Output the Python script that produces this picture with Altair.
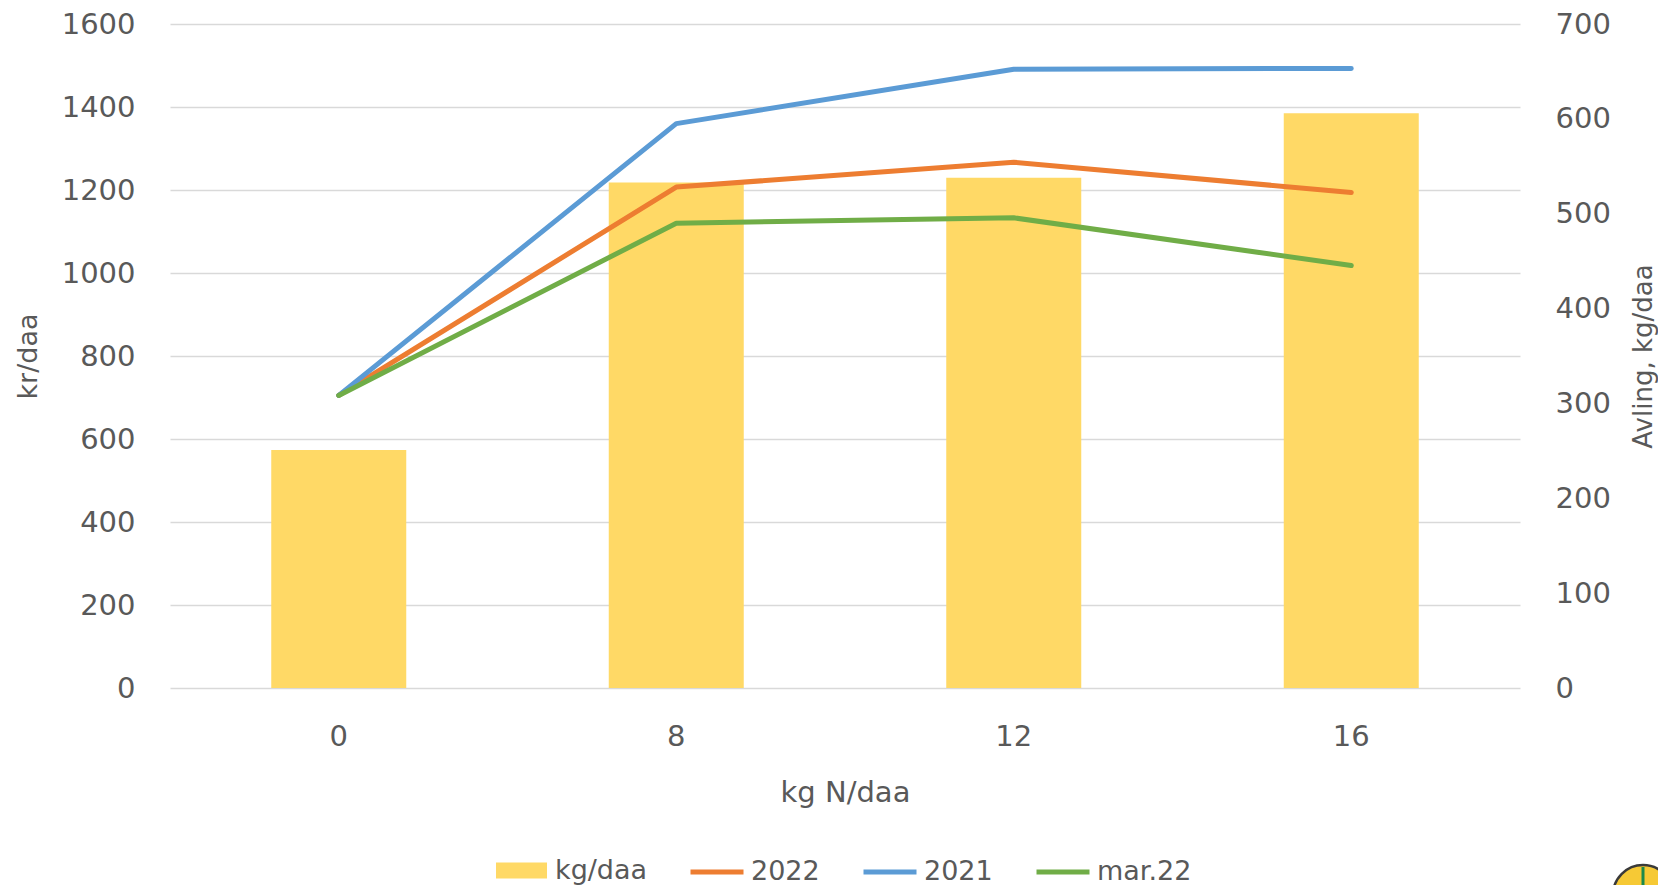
import altair as alt
import pandas as pd

# ---- data ----
categories = ["0", "8", "12", "16"]
yield_kg_daa = [251, 533, 538, 606]          # bars, right axis (Avling, kg/daa)
kr_2022 = [705, 1207, 1267, 1194]            # lines, left axis (kr/daa)
kr_2021 = [705, 1360, 1491, 1493]
kr_mar22 = [705, 1120, 1133, 1018]
series_names = ["2022", "2021", "mar.22"]
series_colors = ["#ED7D31", "#5B9BD5", "#70AD47"]
bar_name = "kg/daa"
bar_color = "#FFD966"
left_ticks = [0, 200, 400, 600, 800, 1000, 1200, 1400, 1600]
right_ticks = [0, 100, 200, 300, 400, 500, 600, 700]

bars_df = pd.DataFrame({"N": categories, "value": yield_kg_daa, "serie": bar_name})
lines_df = pd.DataFrame({
    "N": categories * 3,
    "value": kr_2022 + kr_2021 + kr_mar22,
    "serie": [series_names[0]] * 4 + [series_names[1]] * 4 + [series_names[2]] * 4,
    "order": [0] * 4 + [1] * 4 + [2] * 4,
})

TXT = "#595959"
FONT = "DejaVu Sans"
W, H = 1350, 664

x_enc = alt.X(
    "N:N", sort=categories,
    scale=alt.Scale(paddingInner=0.6, paddingOuter=0.3),
    axis=alt.Axis(
        title="kg N/daa", labelAngle=0, ticks=False, tickSize=0, domain=False,
        labelFont=FONT, labelFontSize=29, labelColor=TXT,
        labelBaseline="middle", labelPadding=48,
        titleFont=FONT, titleFontSize=29, titleFontWeight="normal", titleColor=TXT,
        titleX=W / 2, titleY=104, titleBaseline="middle", titleAlign="center",
    ),
)

bars = alt.Chart(bars_df).mark_bar(color=bar_color).encode(
    x=x_enc,
    y=alt.Y(
        "value:Q",
        scale=alt.Scale(domain=[0, 700], nice=False),
        axis=alt.Axis(
            orient="right", values=right_ticks, format="d", grid=False, ticks=False, domain=False,
            title="Avling, kg/daa", titleAngle=270, titleX=123, titleY=H / 2,
            titleAlign="center", titleBaseline="middle",
            titleFont=FONT, titleFontSize=26, titleFontWeight="normal", titleColor=TXT,
            labelFont=FONT, labelFontSize=29, labelColor=TXT, labelPadding=35,
        ),
    ),
    color=alt.Color(
        "serie:N",
        scale=alt.Scale(domain=[bar_name], range=[bar_color]),
        legend=alt.Legend(
            orient="none", legendX=326, legendY=821, direction="horizontal",
            title=None, symbolType="M-1,-0.31H1V0.31H-1Z", symbolSize=2601,
            symbolStrokeWidth=0, labelFont=FONT, labelFontSize=27, labelColor=TXT,
            labelOffset=8, padding=0, offset=0,
        ),
    ),
)

lines = alt.Chart(lines_df).mark_line(strokeWidth=5, strokeCap="round", strokeJoin="round").encode(
    x=x_enc,
    y=alt.Y(
        "value:Q",
        scale=alt.Scale(domain=[0, 1600], nice=False),
        axis=alt.Axis(
            orient="left", values=left_ticks, format="d", grid=True, gridColor="#D9D9D9", gridWidth=1.5,
            ticks=False, domain=False,
            title="kr/daa", titleAngle=270, titleX=-142, titleY=H / 2,
            titleAlign="center", titleBaseline="middle",
            titleFont=FONT, titleFontSize=27, titleFontWeight="normal", titleColor=TXT,
            labelFont=FONT, labelFontSize=29, labelColor=TXT, labelPadding=35,
        ),
    ),
    color=alt.Color(
        "serie:N",
        scale=alt.Scale(domain=series_names, range=series_colors),
        legend=alt.Legend(
            orient="none", legendX=518, legendY=819, direction="horizontal",
            title=None, symbolType="stroke", symbolSize=2809, symbolStrokeWidth=5,
            labelFont=FONT, labelFontSize=27, labelColor=TXT,
            labelOffset=5, columnPadding=33, padding=0, offset=0,
        ),
    ),
    order=alt.Order("order:Q"),
)

# small logo in the bottom-right corner (decoration)
logo_df = pd.DataFrame({"k": [0]})
logo = alt.Chart(logo_df).mark_point(
    filled=True, shape="circle", size=3600, color="#F6C935",
    stroke="#3A3A3A", strokeWidth=2.5, opacity=1,
).encode(x=alt.value(1473), y=alt.value(871))
logo_line = alt.Chart(logo_df).mark_rule(color="#1B8A4B", strokeWidth=3).encode(
    x=alt.value(1473), y=alt.value(843), y2=alt.value(871)
)

chart = alt.layer(bars, lines, logo, logo_line).resolve_scale(
    y="independent", color="independent"
).properties(
    width=W, height=H,
    autosize=alt.AutoSizeParams(type="none"),
    padding={"left": 162, "top": 16, "right": 138, "bottom": 197},
    background="white",
).configure_view(stroke=None, strokeWidth=0)

chart.save("out.html", embed_options={"renderer": "svg", "actions": False})
